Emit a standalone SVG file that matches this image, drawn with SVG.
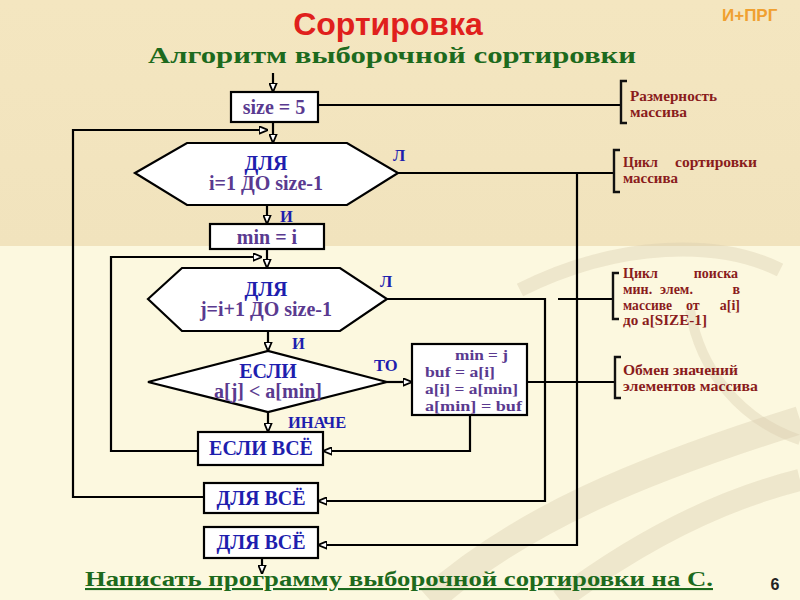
<svg xmlns="http://www.w3.org/2000/svg" width="800" height="600" viewBox="0 0 800 600">
<defs>
<linearGradient id="bgTop" x1="0" y1="0" x2="0" y2="1">
<stop offset="0" stop-color="#f4e6c0"/>
<stop offset="1" stop-color="#f1e3bd"/>
</linearGradient>
<marker id="arr" viewBox="0 0 10 10" refX="10" refY="5" markerWidth="9" markerHeight="9" markerUnits="userSpaceOnUse" orient="auto">
<path d="M0,0.8 L10,5 L0,9.2 Z" fill="#fff" stroke="#000" stroke-width="2"/>
</marker>
<style>
.ln{fill:none;stroke:#000;stroke-width:2.2}
.box{fill:#fff;stroke:#000;stroke-width:2.2}
.br{fill:none;stroke:#111;stroke-width:2.4}
.pur{font-family:"Liberation Serif",serif;font-weight:bold;font-size:20px;fill:#5a3a90;text-anchor:middle}
.blu{font-family:"Liberation Serif",serif;font-weight:bold;font-size:20px;fill:#1e1eae;text-anchor:middle}
.lbl{font-family:"Liberation Serif",serif;font-weight:bold;font-size:16.5px;fill:#1e1eae}
.ann{font-family:"Liberation Serif",serif;font-weight:bold;font-size:14px;fill:#8a1c1c}
.e{text-anchor:end}
.code{font-family:"Liberation Serif",serif;font-weight:bold;font-size:15.5px;fill:#5a3a90}
</style>
</defs>
<rect x="0" y="0" width="800" height="600" fill="#fcf8df"/>
<rect x="0" y="0" width="800" height="246" fill="url(#bgTop)"/>
<g fill="none" stroke="#d9ceb0" stroke-opacity="0.4">
<path d="M430,600 C520,520 640,470 800,420" stroke-width="28"/>
<path d="M560,600 C640,540 720,500 800,480" stroke-width="22"/>
<path d="M520,290 C620,240 720,240 780,270" stroke-width="14"/>
<path d="M690,310 C700,370 740,420 800,440" stroke-width="10"/>
</g>
<text x="388" y="35" font-family="Liberation Sans,Arial,sans-serif" font-weight="bold" font-size="32" fill="#e0201c" text-anchor="middle">Сортировка</text>
<text x="148" y="63" font-family="Liberation Serif,serif" font-weight="bold" font-size="24" fill="#1d6a1d" textLength="488" lengthAdjust="spacingAndGlyphs">Алгоритм выборочной сортировки</text>
<text x="722" y="21" font-family="Liberation Sans,Arial,sans-serif" font-weight="bold" font-size="17" fill="#f0a030">И+ПРГ</text>
<g id="connectors">
<path class="ln" d="M273,73 V92" marker-end="url(#arr)"/>
<path class="ln" d="M273,122 V143" marker-end="url(#arr)"/>
<path class="ln" d="M204,497 H73 V130 H268" marker-end="url(#arr)"/>
<path class="ln" d="M267,205 V224" marker-end="url(#arr)"/>
<path class="ln" d="M267,249 V268" marker-end="url(#arr)"/>
<path class="ln" d="M198,451 H111 V257 H262" marker-end="url(#arr)"/>
<path class="ln" d="M268,331 V351" marker-end="url(#arr)"/>
<path class="ln" d="M387,382 H412" marker-end="url(#arr)"/>
<path class="ln" d="M268,412 V432" marker-end="url(#arr)"/>
<path class="ln" d="M470,415 V451 H323" marker-end="url(#arr)"/>
<path class="ln" d="M387,299 H545 V501 H318" marker-end="url(#arr)"/>
<path class="ln" d="M398,173 H613"/>
<path class="ln" d="M577,173 V545 H318" marker-end="url(#arr)"/>
<path class="ln" d="M318,105 H621"/>
<path class="ln" d="M558,299 H613"/>
<path class="ln" d="M527,382 H614"/>
<path class="ln" d="M262,558 V574" marker-end="url(#arr)"/>
</g>
<g id="n_size"><rect class="box" x="231" y="92" width="87" height="30"/><text class="pur" x="274" y="114">size = 5</text></g>
<g id="n_for_i"><polygon class="box" points="135,173 187,143 347,143 398,173 347,205 187,205"/><text class="blu" x="266" y="170">ДЛЯ</text><text class="pur" x="266" y="190">i=1 ДО size-1</text></g>
<g id="n_min"><rect class="box" x="210" y="224" width="114" height="25"/><text class="pur" x="267" y="244">min = i</text></g>
<g id="n_for_j"><polygon class="box" points="148,299 182,268 340,268 387,299 340,331 182,331" /><text class="blu" x="266" y="296">ДЛЯ</text><text class="pur" x="266" y="316">j=i+1 ДО size-1</text></g>
<g id="n_if"><polygon class="box" points="148,382 268,351 387,382 268,412"/><text class="blu" x="268" y="378">ЕСЛИ</text><text class="pur" x="268" y="398">a[j] &lt; a[min]</text></g>
<g id="n_swap"><rect class="box" x="412" y="344" width="115" height="71"/><text class="code" x="455" y="360" textLength="53" lengthAdjust="spacingAndGlyphs">min = j</text><text class="code" x="425" y="377" textLength="70" lengthAdjust="spacingAndGlyphs">buf = a[i]</text><text class="code" x="425" y="394" textLength="93" lengthAdjust="spacingAndGlyphs">a[i] = a[min]</text><text class="code" x="425" y="411" textLength="97" lengthAdjust="spacingAndGlyphs">a[min] = buf</text></g>
<g id="n_endif"><rect class="box" x="198" y="432" width="125" height="33"/><text class="blu" x="261" y="455">ЕСЛИ ВСЁ</text></g>
<g id="n_endfor_j"><rect class="box" x="204" y="483" width="114" height="30"/><text class="blu" x="261" y="505">ДЛЯ ВСЁ</text></g>
<g id="n_endfor_i"><rect class="box" x="204" y="527" width="114" height="31"/><text class="blu" x="261" y="549">ДЛЯ ВСЁ</text></g>
<g id="labels">
<text class="lbl" x="393" y="161">Л</text>
<text class="lbl" x="380" y="287">Л</text>
<text class="lbl" x="280" y="222">И</text>
<text class="lbl" x="292" y="349">И</text>
<text class="lbl" x="374" y="371">ТО</text>
<text class="lbl" x="288" y="428">ИНАЧЕ</text>
</g>
<g id="annotations">
<path class="br" d="M627,81 H621 V123 H627"/>
<text class="ann" x="630" y="101" textLength="87" lengthAdjust="spacingAndGlyphs">Размерность</text><text class="ann" x="630" y="117" textLength="57" lengthAdjust="spacingAndGlyphs">массива</text>
<path class="br" d="M620,150 H614 V192 H620"/>
<text class="ann" x="623" y="167">Цикл</text><text class="ann e" x="757" y="167" textLength="82" lengthAdjust="spacingAndGlyphs">сортировки</text><text class="ann" x="623" y="183" textLength="55" lengthAdjust="spacingAndGlyphs">массива</text>
<path class="br" d="M619,273 H613 V319 H619"/>
<text class="ann" x="623" y="278">Цикл</text><text class="ann e" x="738" y="278">поиска</text>
<text class="ann" x="623" y="294">мин.</text><text class="ann" x="660" y="294">элем.</text><text class="ann e" x="740" y="294">в</text>
<text class="ann" x="623" y="310" textLength="49" lengthAdjust="spacingAndGlyphs">массиве</text><text class="ann" x="686" y="310">от</text><text class="ann e" x="740" y="310">a[i]</text>
<text class="ann" x="623" y="325" textLength="84" lengthAdjust="spacingAndGlyphs">до a[SIZE-1]</text>
<path class="br" d="M621,357 H615 V398 H621"/>
<text class="ann" x="623" y="375" textLength="115" lengthAdjust="spacingAndGlyphs">Обмен значений</text><text class="ann" x="623" y="391" textLength="135" lengthAdjust="spacingAndGlyphs">элементов массива</text>
</g>
<text x="85" y="586" font-family="Liberation Serif,serif" font-weight="bold" font-size="21" fill="#1d6a1d" text-decoration="underline" textLength="628" lengthAdjust="spacingAndGlyphs">Написать программу выборочной сортировки на С.</text>
<text x="775" y="590" font-family="Liberation Sans,Arial,sans-serif" font-weight="bold" font-size="16" fill="#222" text-anchor="middle">6</text>
</svg>
